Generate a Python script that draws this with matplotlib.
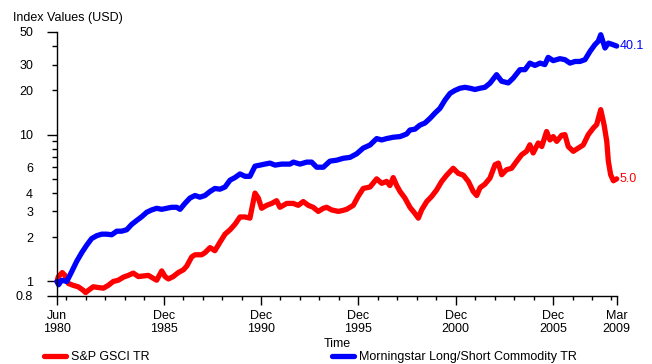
import matplotlib
matplotlib.use('Agg')
import matplotlib.pyplot as plt
from matplotlib.ticker import FixedLocator, FixedFormatter, FuncFormatter

plt.rcParams['font.family'] = ['Liberation Sans', 'DejaVu Sans']
FS = 9

# values (decimal years, index level in USD)
gsci_t = [1980.42, 1980.49, 1980.69, 1980.83, 1981.00, 1981.26, 1981.51, 1981.77, 1981.89,
          1982.03, 1982.28, 1982.54, 1982.80, 1983.05, 1983.31, 1983.57, 1983.83, 1984.08,
          1984.34, 1984.60, 1984.85, 1985.11, 1985.37, 1985.54, 1985.80, 1985.97, 1986.14,
          1986.39, 1986.65, 1986.91, 1987.08, 1987.34, 1987.51, 1987.85, 1988.02, 1988.28,
          1988.53, 1988.79, 1989.05, 1989.31, 1989.56, 1989.82, 1990.08, 1990.33, 1990.59,
          1990.76, 1990.93, 1991.19, 1991.45, 1991.70, 1991.87, 1992.22, 1992.56, 1992.81,
          1993.07, 1993.33, 1993.58, 1993.84, 1994.10, 1994.27, 1994.53, 1994.87, 1995.12,
          1995.30, 1995.64, 1995.89, 1996.15, 1996.50, 1996.84, 1997.10, 1997.35, 1997.52,
          1997.69, 1997.87, 1998.04, 1998.29, 1998.55, 1998.81, 1998.98, 1999.15, 1999.41,
          1999.67, 1999.92, 2000.18, 2000.44, 2000.77, 2001.03, 2001.29, 2001.55, 2001.80,
          2001.98, 2002.15, 2002.40, 2002.66, 2002.92, 2003.09, 2003.26, 2003.51, 2003.77,
          2004.03, 2004.29, 2004.54, 2004.71, 2004.88, 2005.14, 2005.32, 2005.57, 2005.74,
          2005.91, 2006.09, 2006.34, 2006.51, 2006.68, 2006.94, 2007.20, 2007.45, 2007.71,
          2007.97, 2008.14, 2008.35, 2008.52, 2008.66, 2008.74, 2008.86, 2009.00, 2009.17]
gsci_v = [1.00, 1.08, 1.15, 1.10, 0.97, 0.94, 0.92, 0.87, 0.84,
          0.87, 0.92, 0.91, 0.90, 0.94, 1.00, 1.02, 1.07, 1.10,
          1.14, 1.08, 1.09, 1.10, 1.05, 1.02, 1.18, 1.08, 1.04,
          1.08, 1.15, 1.20, 1.27, 1.47, 1.52, 1.52, 1.57, 1.70,
          1.62, 1.85, 2.10, 2.25, 2.45, 2.75, 2.75, 2.70, 4.00,
          3.70, 3.15, 3.30, 3.40, 3.55, 3.20, 3.40, 3.40, 3.30,
          3.50, 3.30, 3.20, 3.00, 3.15, 3.20, 3.07, 3.00, 3.05,
          3.10, 3.30, 3.80, 4.30, 4.40, 5.00, 4.66, 4.80, 4.50,
          5.10, 4.50, 4.10, 3.70, 3.20, 2.90, 2.70, 3.07, 3.50,
          3.80, 4.20, 4.80, 5.30, 5.90, 5.45, 5.30, 4.80, 4.10,
          3.85, 4.35, 4.60, 5.06, 6.24, 6.40, 5.33, 5.77, 5.90,
          6.58, 7.30, 7.70, 8.53, 7.50, 8.77, 8.30, 10.5, 9.20,
          9.70, 9.00, 9.90, 10.0, 8.30, 7.70, 8.10, 8.50, 10.0,
          11.1, 11.7, 14.8, 11.7, 9.00, 6.60, 5.33, 4.85, 5.00]

ls_t = [1980.42, 1980.50, 1980.66, 1980.92, 1981.18, 1981.43, 1981.69, 1981.95, 1982.20,
        1982.46, 1982.72, 1982.97, 1983.23, 1983.49, 1983.74, 1984.00, 1984.26, 1984.51,
        1984.77, 1985.03, 1985.28, 1985.54, 1985.80, 1986.05, 1986.31, 1986.57, 1986.74,
        1986.99, 1987.25, 1987.51, 1987.76, 1988.02, 1988.28, 1988.53, 1988.79, 1989.05,
        1989.31, 1989.56, 1989.82, 1990.08, 1990.33, 1990.59, 1990.85, 1991.10, 1991.36,
        1991.62, 1991.96, 1992.39, 1992.56, 1992.90, 1993.25, 1993.50, 1993.76, 1994.10,
        1994.44, 1994.79, 1995.12, 1995.47, 1995.81, 1996.15, 1996.50, 1996.84, 1997.10,
        1997.35, 1997.69, 1998.04, 1998.38, 1998.55, 1998.81, 1999.06, 1999.32, 1999.58,
        1999.83, 2000.09, 2000.35, 2000.61, 2000.86, 2001.12, 2001.38, 2001.63, 2001.89,
        2002.15, 2002.40, 2002.66, 2003.00, 2003.26, 2003.60, 2003.86, 2004.20, 2004.46,
        2004.71, 2004.97, 2005.23, 2005.48, 2005.65, 2005.91, 2006.25, 2006.51, 2006.77,
        2007.03, 2007.28, 2007.54, 2007.80, 2008.05, 2008.22, 2008.35, 2008.57, 2008.74,
        2008.91, 2009.17]
ls_v = [1.00, 0.95, 1.02, 1.00, 1.17, 1.37, 1.57, 1.77, 1.96,
        2.05, 2.10, 2.10, 2.08, 2.20, 2.20, 2.25, 2.45, 2.60,
        2.76, 2.96, 3.07, 3.15, 3.10, 3.15, 3.20, 3.20, 3.10,
        3.40, 3.70, 3.85, 3.75, 3.85, 4.10, 4.30, 4.25, 4.40,
        4.90, 5.10, 5.40, 5.20, 5.20, 6.10, 6.20, 6.30, 6.40,
        6.20, 6.30, 6.30, 6.50, 6.30, 6.50, 6.50, 6.00, 6.00,
        6.60, 6.70, 6.90, 7.00, 7.40, 8.10, 8.50, 9.40, 9.20,
        9.40, 9.60, 9.70, 10.1, 10.75, 10.9, 11.6, 12.0, 12.9,
        14.0, 15.1, 17.2, 19.1, 20.0, 20.7, 21.0, 20.7, 20.3,
        20.7, 21.0, 22.4, 25.6, 23.1, 22.5, 24.3, 27.7, 27.7,
        30.7, 29.6, 30.7, 30.0, 33.6, 31.9, 32.9, 32.4, 30.7,
        31.5, 31.5, 32.4, 36.9, 41.0, 43.2, 47.9, 38.9, 42.0,
        41.3, 40.1]

x_ticks = [1980.42, 1985.9, 1990.9, 1995.9, 2000.9, 2005.9, 2009.17]
x_labels = ['Jun\n1980', 'Dec\n1985', 'Dec\n1990', 'Dec\n1995', 'Dec\n2000', 'Dec\n2005', 'Mar\n2009']
x_minor = [yr + 0.9 for yr in range(1980, 2009)]

y_long = [0.8, 1, 10, 50]
y_short = [2, 3, 4, 5, 6, 7, 8, 9, 20, 30, 40]
y_text = {0.8: '0.8', 1: '1', 2: '2', 3: '3', 4: '4', 6: '6', 10: '10', 20: '20', 30: '30', 50: '50'}

fig = plt.figure(figsize=(6.52, 3.64), dpi=100)
ax = fig.add_axes([57 / 652, 1 - 295.7 / 364, 559.7 / 652, 263.7 / 364])

ax.plot(gsci_t, gsci_v, color='#ff0000', lw=3.8, solid_joinstyle='round',
        solid_capstyle='round', clip_on=False, label='S&P GSCI TR')
ax.plot(ls_t, ls_v, color='#0000ff', lw=3.8, solid_joinstyle='round',
        solid_capstyle='round', clip_on=False, label='Morningstar Long/Short Commodity TR')

ax.set_yscale('log')
ax.set_ylim(0.8, 50)
ax.set_xlim(1980.42, 2009.17)

ax.yaxis.set_major_locator(FixedLocator(y_long))
ax.yaxis.set_minor_locator(FixedLocator(y_short))
lab = lambda v, pos: y_text.get(round(v, 1) if v < 1 else round(v), '')
ax.yaxis.set_major_formatter(FuncFormatter(lab))
ax.yaxis.set_minor_formatter(FuncFormatter(lab))
ax.tick_params(axis='y', which='major', length=7.2, width=1, pad=10, labelsize=FS)
ax.tick_params(axis='y', which='minor', length=3.6, width=1, pad=13.6, labelsize=FS)

ax.xaxis.set_major_locator(FixedLocator(x_ticks))
ax.xaxis.set_major_formatter(FixedFormatter(x_labels))
ax.xaxis.set_minor_locator(FixedLocator(x_minor))
ax.tick_params(axis='x', which='major', length=6.5, width=1, pad=3.6, labelsize=FS)
ax.tick_params(axis='x', which='minor', length=2.9, width=1)
for t in ax.get_xticklabels():
    t.set_linespacing(1.1)

for s in ['top', 'right']:
    ax.spines[s].set_visible(False)
for s in ['left', 'bottom']:
    ax.spines[s].set_linewidth(1.0)

ax.set_xlabel('Time', fontsize=FS, labelpad=2.5)
fig.text(13 / 652, 1 - 17.5 / 364, 'Index Values (USD)', fontsize=FS, va='center')

ax.annotate('%.1f' % ls_v[-1], (ls_t[-1], ls_v[-1]), xytext=(2, 0), textcoords='offset points',
            color='#0000ff', va='center', fontsize=FS, annotation_clip=False)
ax.annotate('%.1f' % gsci_v[-1], (gsci_t[-1], gsci_v[-1]), xytext=(2, 0), textcoords='offset points',
            color='#ff0000', va='center', fontsize=FS, annotation_clip=False)

fig.legend(loc='center left', bbox_to_anchor=(44 / 652, 1 - 357 / 364), ncol=2, frameon=False,
           fontsize=FS, handlelength=1.76, handletextpad=0.38, columnspacing=14.6,
           borderaxespad=0, borderpad=0)

fig.savefig('out.png', dpi=100)
